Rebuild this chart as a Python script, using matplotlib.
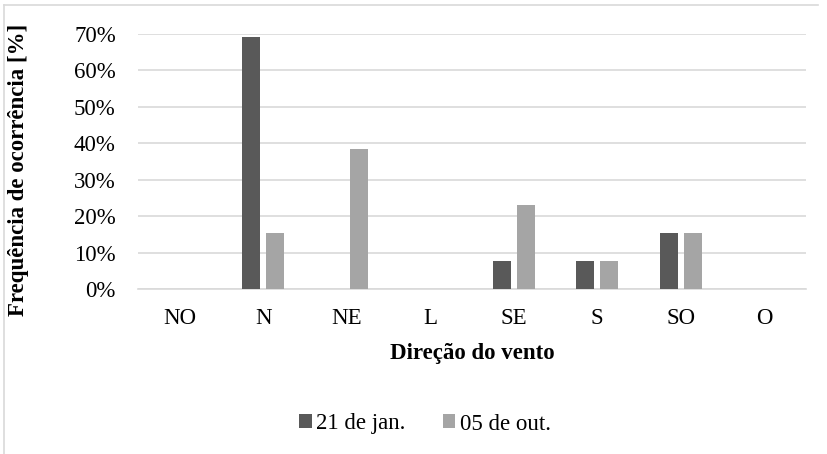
import matplotlib.pyplot as plt
import matplotlib.lines as mlines
import numpy as np
from matplotlib.ticker import PercentFormatter

plt.rcParams["font.family"] = ["Liberation Serif", "DejaVu Serif"]

direcoes = ["NO", "N", "NE", "L", "SE", "S", "SO", "O"]
jan21 = [0.0, 69.2, 0.0, 0.0, 7.7, 7.7, 15.4, 0.0]
out05 = [0.0, 15.4, 38.5, 0.0, 23.1, 7.7, 15.4, 0.0]

cor_jan = "#595959"
cor_out = "#a5a5a5"
cor_grade = "#d9d9d9"
fs = 16.5

fig = plt.figure(figsize=(8.28, 4.54), dpi=100)
ax = fig.add_axes([138 / 828, 1 - 289 / 454, 668 / 828, 255 / 454])

x = np.arange(len(direcoes))
w = 0.216
ax.bar(x - 0.144, jan21, width=w, color=cor_jan, label="21 de jan.", zorder=3)
ax.bar(x + 0.144, out05, width=w, color=cor_out, label="05 de out.", zorder=3)

ax.set_xlim(-0.5, len(direcoes) - 0.5)
ax.set_ylim(0, 70)
ax.set_yticks(np.arange(0, 71, 10))
ax.yaxis.set_major_formatter(PercentFormatter(decimals=0))
ax.set_xticks(x)
ax.set_xticklabels(direcoes)
ax.tick_params(axis="both", length=0, labelsize=fs, colors="black")
ax.tick_params(axis="x", pad=14)
ax.tick_params(axis="y", pad=16)

ax.grid(axis="y", color=cor_grade, lw=1.2, zorder=0)
for s in ["top", "right", "left"]:
    ax.spines[s].set_visible(False)
ax.spines["bottom"].set_color(cor_grade)
ax.spines["bottom"].set_linewidth(1.2)

fig.text(472 / 828, 1 - 353 / 454, "Direção do vento", fontsize=fs,
         fontweight="bold", ha="center", va="center")
fig.text(19 / 828, 1 - 170 / 454, "Frequência de ocorrência [%]", fontsize=fs,
         fontweight="bold", ha="center", va="center", rotation=90)

ax.legend(loc="center", bbox_to_anchor=(425 / 828, 1 - 424 / 454),
          bbox_transform=fig.transFigure, ncol=2, frameon=False, fontsize=fs,
          handlelength=0.55, handleheight=0.55, handletextpad=0.2,
          columnspacing=1.6)

# moldura clara do gráfico
fig.add_artist(mlines.Line2D([4 / 828, 4 / 828], [0, 1 - 5 / 454],
                             color=cor_grade, lw=1.2, transform=fig.transFigure))
fig.add_artist(mlines.Line2D([4 / 828, 818 / 828], [1 - 5 / 454, 1 - 5 / 454],
                             color=cor_grade, lw=1.2, transform=fig.transFigure))

fig.savefig("out.png", dpi=100)
